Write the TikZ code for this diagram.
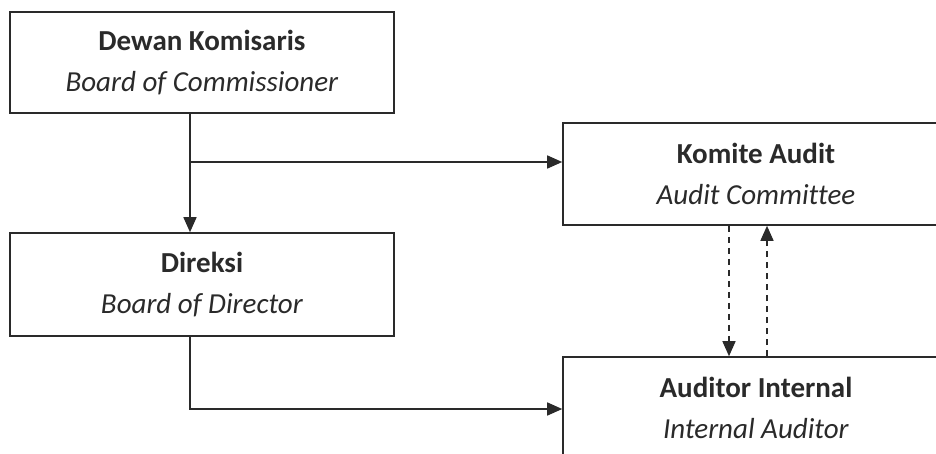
\documentclass[tikz,border=0pt]{standalone}
\usepackage{fontspec}
\setmainfont{Carlito}[Ligatures=NoCommon]
\usetikzlibrary{arrows.meta}
\definecolor{ink}{HTML}{2A2A2A}
\tikzset{
  orgbox/.style={draw=ink, line width=1.6pt, minimum width=384pt, minimum height=102pt,
    inner sep=0pt, align=center, text=ink, font=\fontsize{29}{41}\selectfont},
  conn/.style={draw=ink, line width=1.5pt, -{Triangle[length=15pt,width=13pt]}},
  dconn/.style={conn, dash pattern=on 6pt off 5pt},
}
\begin{document}
\begin{tikzpicture}[x=1pt,y=-1pt]
\clip (0,0) rectangle (936,453);
\fill[white] (0,0) rectangle (936,453);
\node[orgbox, minimum height=101pt] (dewan) at (202,62.5) {\textbf{Dewan Komisaris}\\\textit{Board of Commissioner}};
\node[orgbox, minimum height=103pt] (direksi) at (202,284.5) {\textbf{Direksi}\\\textit{Board of Director}};
\node[orgbox, minimum width=386pt] (komite) at (756,174) {\textbf{Komite Audit}\\\textit{Audit Committee}};
\node[orgbox, minimum width=386pt] (auditor) at (756,408) {\textbf{Auditor Internal}\\\textit{Internal Auditor}};
\coordinate (c1) at (190,162);
\coordinate (c2) at (190,409);
\coordinate (d1) at (729,300);
\coordinate (d2) at (767,300);
\draw[conn] (c1 |- dewan.south) -- (c1 |- direksi.north);
\draw[conn] (c1) -- (c1 -| komite.west);
\draw[conn] (c2 |- direksi.south) -- (c2) -- (c2 -| auditor.west);
\draw[dconn] (d1 |- komite.south) -- (d1 |- auditor.north);
\draw[dconn] (d2 |- auditor.north) -- (d2 |- komite.south);
\end{tikzpicture}
\end{document}
